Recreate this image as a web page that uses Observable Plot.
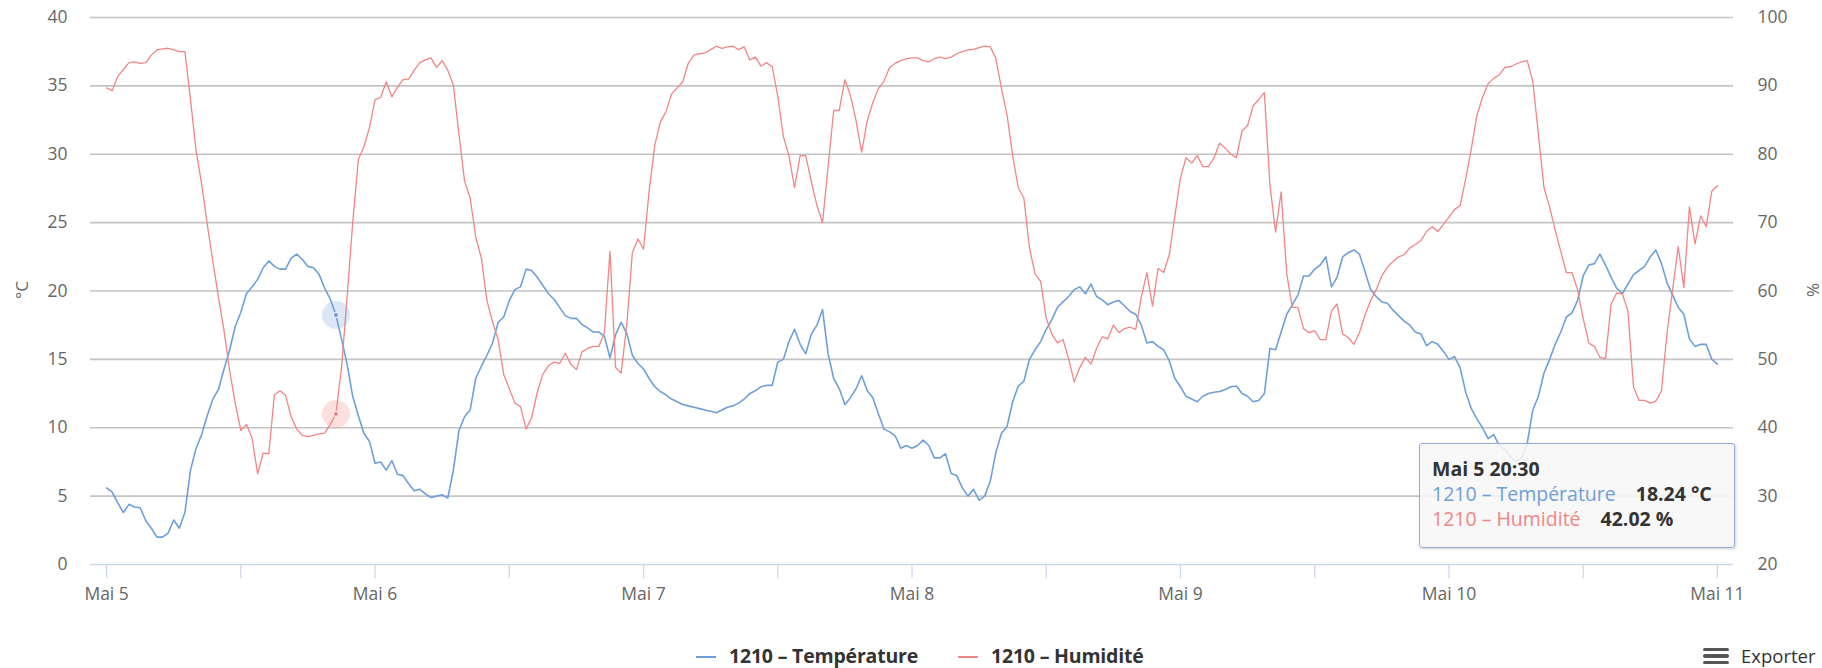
<!DOCTYPE html>
<html>
<head>
<meta charset="utf-8">
<script src="https://cdn.jsdelivr.net/npm/d3@7"></script>
<script src="https://cdn.jsdelivr.net/npm/@observablehq/plot@0.6"></script>
<style>
  html, body { margin: 0; padding: 0; background: #fff; }
  #wrap { position: relative; width: 1822px; height: 668px; overflow: hidden; font-family: "Open Sans", sans-serif; }
  #chart { position: absolute; left: 0; top: 0; }
  .ytitle { position: absolute; font-size: 17px; color: #666; transform: translate(-50%, -50%) rotate(-90deg); white-space: nowrap; }
  .legend { position: absolute; top: 643px; font-size: 19.5px; font-weight: bold; color: #333; white-space: nowrap; line-height: 26px; letter-spacing: -0.2px; }
  .legend .sw { display: inline-block; width: 20px; height: 2px; vertical-align: middle; margin-right: 13px; position: relative; top: -1px; }
  #export { position: absolute; left: 1703px; top: 643px; font-size: 18.5px; color: #333; white-space: nowrap; line-height: 26px; }
  #export .bars { display: inline-block; width: 26px; vertical-align: middle; margin-right: 12px; position: relative; top: -2px; }
  #export .bars i { display: block; height: 3.5px; background: #555; border-radius: 2px; margin: 3px 0; }
  #tip { position: absolute; left: 1419px; top: 443px; width: 290px; height: 80px; padding: 12px 12px 11px 12px;
         background: rgba(247,247,247,0.88); border: 1px solid #8fb0da; border-radius: 3px;
         box-shadow: 1px 1px 3px rgba(0,0,0,0.18); font-size: 19.5px; line-height: 25px; color: #333; white-space: nowrap; }
  #tip b { font-weight: bold; }
  #tip .v { font-weight: bold; margin-left: 20px; }
</style>
</head>
<body>
<div id="wrap"></div>
<script>
// ---------- data ----------
const stepHours = 0.5;                         // readings every 30 minutes, from Mai 5 00:00
const dayLabels = ["Mai 5", "Mai 6", "Mai 7", "Mai 8", "Mai 9", "Mai 10", "Mai 11"];
const seriesNames = ["1210 – Température", "1210 – Humidité"];
const seriesUnits = ["°C", "%"];
const tempTicks = [0, 5, 10, 15, 20, 25, 30, 35, 40];
const humidityTicks = [20, 30, 40, 50, 60, 70, 80, 90, 100];
const hoverIndex = 41;
const hoverLabel = "Mai 5 20:30";

const tempDay5 = [5.6, 5.3, 4.5, 3.8, 4.4, 4.2, 4.15, 3.2, 2.65, 2.0, 2.0, 2.3, 3.25, 2.65, 3.8, 6.9, 8.5, 9.5, 10.9, 12.1, 12.8, 14.3, 15.7, 17.4, 18.45, 19.8, 20.3, 20.85, 21.7, 22.2, 21.8, 21.6, 21.6, 22.4, 22.7, 22.3, 21.8, 21.7, 21.2, 20.2, 19.4, 18.24, 16.5, 14.65, 12.3, 10.9, 9.6, 9.0, 7.4];
const tempDay6 = [7.5, 6.9, 7.6, 6.6, 6.5, 5.9, 5.4, 5.5, 5.16, 4.9, 5.0, 5.1, 4.85, 6.9, 9.8, 10.8, 11.3, 13.6, 14.5, 15.3, 16.2, 17.7, 18.1, 19.3, 20.1, 20.3, 21.6, 21.5, 21.0, 20.4, 19.8, 19.4, 18.8, 18.2, 18.0, 18.0, 17.55, 17.3, 17.0, 17.0, 16.7, 15.1, 16.8, 17.7, 16.9, 15.3, 14.7, 14.3];
const tempDay7 = [13.6, 13.0, 12.65, 12.4, 12.1, 11.9, 11.7, 11.6, 11.5, 11.4, 11.3, 11.2, 11.1, 11.3, 11.5, 11.6, 11.8, 12.1, 12.5, 12.7, 13.0, 13.1, 13.1, 14.8, 15.0, 16.3, 17.2, 16.1, 15.4, 16.85, 17.5, 18.65, 15.4, 13.6, 12.85, 11.7, 12.2, 12.85, 13.8, 12.7, 12.2, 11.0, 9.9, 9.7, 9.4, 8.5, 8.7, 8.5];
const tempDay8 = [8.7, 9.1, 8.7, 7.8, 7.8, 8.1, 6.65, 6.5, 5.6, 5.0, 5.5, 4.7, 5.0, 6.1, 8.2, 9.6, 10.1, 11.9, 13.05, 13.4, 15.0, 15.7, 16.3, 17.2, 17.9, 18.8, 19.2, 19.6, 20.1, 20.3, 19.8, 20.5, 19.6, 19.35, 19.0, 19.2, 19.3, 18.9, 18.5, 18.3, 17.5, 16.2, 16.3, 15.95, 15.7, 14.9, 13.6, 13.0];
const tempDay9 = [12.3, 12.1, 11.9, 12.3, 12.5, 12.6, 12.65, 12.8, 13.0, 13.05, 12.5, 12.3, 11.9, 12.0, 12.5, 15.8, 15.7, 17.0, 18.3, 19.0, 19.7, 21.1, 21.1, 21.6, 21.9, 22.5, 20.3, 21.0, 22.5, 22.8, 23.0, 22.7, 21.4, 20.1, 19.6, 19.2, 19.1, 18.6, 18.2, 17.8, 17.5, 17.0, 16.85, 16.0, 16.3, 16.1, 15.6, 15.0];
const tempDay10 = [15.2, 14.4, 12.6, 11.4, 10.65, 10.0, 9.2, 9.5, 8.7, 8.4, 7.9, 7.5, 7.8, 8.85, 11.3, 12.3, 14.0, 15.0, 16.1, 17.0, 18.1, 18.4, 19.3, 21.1, 21.9, 22.0, 22.7, 21.9, 21.0, 20.2, 19.8, 20.5, 21.2, 21.5, 21.8, 22.5, 23.0, 22.0, 20.6, 19.7, 18.8, 18.3, 16.5, 15.95, 16.1, 16.1, 15.0, 14.65];

const humDay5 = [89.7, 89.3, 91.4, 92.4, 93.4, 93.5, 93.3, 93.4, 94.5, 95.25, 95.4, 95.5, 95.25, 95.0, 95.0, 88.0, 80.5, 75.6, 69.7, 64.3, 59.1, 54.2, 48.3, 43.6, 39.6, 40.5, 38.5, 33.3, 36.3, 36.2, 44.8, 45.4, 44.7, 41.6, 39.8, 38.9, 38.7, 38.9, 39.1, 39.2, 40.5, 42.02, 48.8, 59.1, 70.0, 79.2, 81.1, 83.9, 88.0];
const humDay6 = [88.3, 90.6, 88.4, 89.8, 90.9, 91.0, 92.3, 93.4, 93.8, 94.1, 92.7, 93.7, 92.3, 90.1, 82.9, 76.1, 73.6, 67.9, 64.8, 58.6, 55.5, 52.9, 47.8, 45.7, 43.6, 43.1, 39.8, 41.5, 45.2, 47.8, 49.1, 49.6, 49.4, 50.9, 49.3, 48.5, 51.1, 51.6, 51.9, 51.9, 53.9, 65.8, 48.8, 48.0, 55.0, 65.6, 67.6, 66.1];
const humDay7 = [74.6, 81.3, 84.7, 86.2, 88.8, 89.7, 90.6, 93.3, 94.5, 94.7, 94.8, 95.3, 95.8, 95.5, 95.7, 95.8, 95.3, 95.7, 93.8, 94.2, 92.9, 93.4, 92.8, 88.5, 82.6, 79.8, 75.1, 79.8, 79.8, 76.0, 72.5, 70.0, 78.2, 86.4, 86.4, 90.9, 88.6, 84.9, 80.3, 84.9, 87.6, 89.6, 90.7, 92.7, 93.3, 93.7, 94.0, 94.1];
const humDay8 = [94.1, 93.7, 93.5, 94.0, 94.2, 94.0, 94.2, 94.7, 95.0, 95.25, 95.35, 95.6, 95.8, 95.7, 94.0, 89.6, 85.7, 79.8, 75.1, 73.6, 66.3, 62.5, 61.4, 56.0, 53.7, 52.4, 52.9, 50.1, 46.7, 48.8, 50.3, 49.3, 51.6, 53.3, 53.0, 55.0, 53.9, 54.5, 54.7, 54.4, 59.1, 62.7, 57.8, 63.3, 62.7, 65.3, 71.0, 76.5];
const humDay9 = [79.5, 78.7, 79.8, 78.2, 78.2, 79.5, 81.6, 80.9, 80.0, 79.5, 83.4, 84.2, 87.1, 88.0, 89.0, 75.5, 68.6, 74.5, 62.5, 57.6, 57.6, 54.5, 53.9, 54.2, 52.9, 52.9, 57.1, 58.1, 53.7, 53.2, 52.2, 53.9, 56.5, 58.6, 60.2, 62.2, 63.5, 64.3, 65.0, 65.3, 66.3, 66.8, 67.4, 68.7, 69.4, 68.7, 69.7, 70.8];
const humDay10 = [71.9, 72.5, 76.4, 80.8, 85.7, 88.3, 90.3, 91.1, 91.6, 92.7, 92.8, 93.2, 93.5, 93.7, 90.6, 82.9, 75.1, 72.3, 68.9, 65.8, 62.7, 62.7, 60.2, 56.0, 52.4, 51.9, 50.3, 50.1, 58.1, 59.7, 59.6, 57.1, 46.0, 44.0, 44.0, 43.6, 43.9, 45.4, 53.9, 60.2, 66.5, 60.5, 72.3, 66.9, 71.0, 69.4, 74.6, 75.4];

const colors = ["#6f9fd9", "#f28585"];

// ---------- build ----------
const temperature = [].concat(tempDay5, tempDay6, tempDay7, tempDay8, tempDay9, tempDay10);
const humidity = [].concat(humDay5, humDay6, humDay7, humDay8, humDay9, humDay10);
const rows = temperature.map((t, i) => ({hour: i * stepHours, temp: t, hum: humidity[i]}));
// humidity axis (20–100 %) is drawn against the temperature scale (0–40 °C)
const humToY = h => (h - humidityTicks[0]) * (tempTicks[tempTicks.length - 1] - tempTicks[0]) / (humidityTicks[humidityTicks.length - 1] - humidityTicks[0]);
const tickHours = d3.range(0, (dayLabels.length - 1) * 24 + 1, 12);
const spanH = (dayLabels.length - 1) * 24;
const hover = rows[hoverIndex];

const chart = Plot.plot({
  width: 1822,
  height: 620,
  marginLeft: 90,
  marginRight: 89,
  marginTop: 17,
  marginBottom: 56,
  x: {domain: [-0.01 * spanH, spanH * 1.01]},
  y: {domain: [tempTicks[0], tempTicks[tempTicks.length - 1]]},
  style: {fontFamily: "Open Sans, sans-serif", fontSize: "17.5px", color: "#666", background: "transparent", overflow: "visible"},
  marks: [
    Plot.ruleY(tempTicks.slice(1), {stroke: "#c4c4c4", strokeWidth: 1.6}),
    Plot.axisY(tempTicks, {anchor: "left", tickSize: 0, tickPadding: 23, label: null, fill: "#666"}),
    Plot.axisY(tempTicks, {anchor: "right", tickSize: 0, tickPadding: 24, label: null, fill: "#666",
      tickFormat: (d, i) => humidityTicks[i]}),
    Plot.ruleY([0], {stroke: "#ccd6eb", strokeWidth: 1.5}),
    Plot.axisX(tickHours, {anchor: "bottom", tickSize: 14, tickPadding: 9, stroke: "#ccd6eb", strokeWidth: 1.2, label: null,
      fill: "#666", tickFormat: d => (d % 24 === 0 ? dayLabels[d / 24] : "")}),
    Plot.line(rows, {x: "hour", y: "temp", stroke: colors[0], strokeWidth: 1.6, curve: "linear"}),
    Plot.line(rows, {x: "hour", y: d => humToY(d.hum), stroke: colors[1], strokeWidth: 1.3, curve: "linear"}),
    Plot.dot([hover], {x: "hour", y: "temp", r: 14, fill: colors[0], fillOpacity: 0.25, stroke: "none"}),
    Plot.dot([hover], {x: "hour", y: d => humToY(d.hum), r: 14, fill: colors[1], fillOpacity: 0.25, stroke: "none"}),
    Plot.dot([hover], {x: "hour", y: "temp", r: 2.6, fill: colors[0], stroke: "white", strokeWidth: 1}),
    Plot.dot([hover], {x: "hour", y: d => humToY(d.hum), r: 2.6, fill: colors[1], stroke: "white", strokeWidth: 1})
  ]
});
chart.id = "chart";
const wrap = document.getElementById("wrap");
wrap.appendChild(chart);

function addDiv(cls, html, style) {
  const d = document.createElement("div");
  d.className = cls; d.innerHTML = html; Object.assign(d.style, style);
  wrap.appendChild(d); return d;
}
// axis titles
addDiv("ytitle", seriesUnits[0], {left: "21px", top: "290px"});
addDiv("ytitle", seriesUnits[1], {left: "1812px", top: "290px"});

// legend
addDiv("legend", `<span class="sw" style="background:${colors[0]}"></span>${seriesNames[0]}`, {left: "696px"});
addDiv("legend", `<span class="sw" style="background:${colors[1]}"></span>${seriesNames[1]}`, {left: "958px"});

// export button
addDiv("", `<span class="bars"><i></i><i></i><i></i></span>Exporter`, {}).id = "export";

// tooltip
const fmt = d3.format(".2f");
addDiv("", `<b>${hoverLabel}</b><br>` +
  `<span style="color:${colors[0]}">${seriesNames[0]}</span><span class="v">${fmt(hover.temp)} ${seriesUnits[0]}</span><br>` +
  `<span style="color:${colors[1]}">${seriesNames[1]}</span><span class="v">${fmt(hover.hum)} ${seriesUnits[1]}</span>`, {}).id = "tip";
</script>
</body>
</html>
